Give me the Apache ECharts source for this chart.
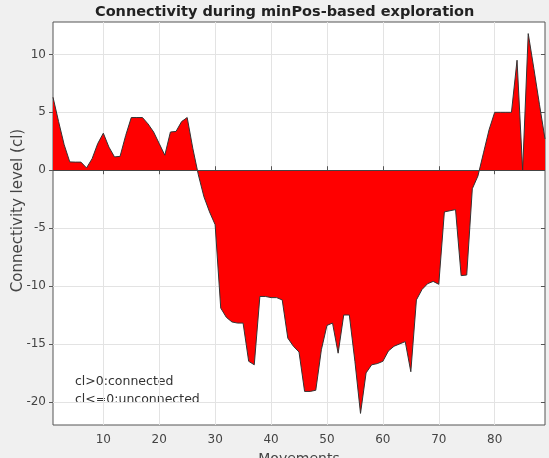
<!DOCTYPE html>
<html>
<head>
<meta charset="utf-8">
<script src="https://cdn.jsdelivr.net/npm/echarts@6/dist/echarts.min.js"></script>
<style>
  html, body { margin: 0; padding: 0; background: #f0f0f0; }
  #chart { width: 549px; height: 458px; }
</style>
</head>
<body>
<div id="chart"></div>
<script>
// connectivity level per movement (1..89)
const connectivity = [
  6.3, 4.2, 2.2, 0.72, 0.7, 0.7, 0.2, 1.0, 2.3, 3.2,
  2.0, 1.15, 1.2, 3.0, 4.55, 4.55, 4.55, 4.0, 3.3, 2.3,
  1.3, 3.3, 3.35, 4.2, 4.55, 1.9, -0.4, -2.3, -3.6, -4.7,
  -11.9, -12.7, -13.1, -13.2, -13.2, -16.5, -16.8, -10.9, -10.9, -11.0,
  -11.0, -11.2, -14.5, -15.2, -15.7, -19.1, -19.1, -19.0, -15.5, -13.4,
  -13.2, -15.8, -12.5, -12.5, -16.5, -21.0, -17.5, -16.8, -16.7, -16.5,
  -15.6, -15.2, -15.0, -14.8, -17.4, -11.2, -10.3, -9.8, -9.6, -9.85,
  -3.6, -3.5, -3.4, -9.1, -9.05, -1.6, -0.5, 1.5, 3.5, 5.0,
  5.0, 5.0, 5.0, 9.5, 0.0, 11.8, 8.8, 5.7, 2.7
]
const xTicks = [10, 20, 30, 40, 50, 60, 70, 80]
const yTicks = [-20, -15, -10, -5, 0, 5, 10]
const notes = ['cl>0:connected', 'cl<=0:unconnected']

const chart = echarts.init(document.getElementById('chart'))

const points = connectivity.map((v, i) => [i + 1, v])
const font = 'DejaVu Sans'
const textColor = '#444'
const gridColor = '#e3e3e3'

const option = {
  backgroundColor: '#f0f0f0',
  animation: false,
  title: {
    text: 'Connectivity during minPos-based exploration',
    left: 90,
    top: 0,
    textStyle: { fontFamily: font, fontSize: 14.5, fontWeight: 'bold', color: '#222' }
  },
  grid: {
    left: 53, right: 4, top: 22, bottom: 33,
    outerBoundsMode: 'none',
    show: true, backgroundColor: '#fff', borderColor: '#555', borderWidth: 1
  },
  xAxis: [{
    type: 'value',
    min: 1,
    max: 89,
    name: 'Movements',
    nameLocation: 'middle',
    nameGap: 27,
    nameTextStyle: { fontFamily: font, fontSize: 14, color: textColor },
    axisLine: { show: false },
    axisTick: { show: true, inside: true, length: 4, customValues: xTicks, lineStyle: { color: '#555' } },
    axisLabel: { customValues: xTicks, margin: 9, fontFamily: font, fontSize: 12, color: textColor },
    splitLine: { show: true, lineStyle: { color: gridColor } }
  }, {
    type: 'value',
    position: 'top',
    min: 1,
    max: 89,
    axisLine: { show: false },
    axisTick: { show: true, inside: true, length: 4, customValues: xTicks, lineStyle: { color: '#555' } },
    axisLabel: { show: false },
    splitLine: { show: false }
  }],
  yAxis: [{
    type: 'value',
    min: -22,
    max: 12.8,
    name: 'Connectivity level (cl)',
    nameLocation: 'middle',
    nameGap: 27,
    nameMoveOverlap: false,
    nameTextStyle: { fontFamily: font, fontSize: 15, color: textColor, padding: [0, 0, 0, 26] },
    axisLine: { show: false },
    axisTick: { show: true, inside: false, length: 4, customValues: yTicks, lineStyle: { color: '#555' } },
    axisLabel: { customValues: yTicks, margin: 7, fontFamily: font, fontSize: 12, color: textColor },
    splitLine: { show: true, lineStyle: { color: gridColor } }
  }, {
    type: 'value',
    position: 'right',
    min: -22,
    max: 12.8,
    axisLine: { show: false },
    axisTick: { show: true, inside: true, length: 4, customValues: yTicks, lineStyle: { color: '#555' } },
    axisLabel: { show: false },
    splitLine: { show: false }
  }],
  graphic: notes.map((t, i) => ({
    type: 'text',
    left: 75,
    top: 375 + i * 18,
    style: { text: t, fontFamily: font, fontSize: 12.5, fill: '#333' }
  })),
  series: [
    {
      name: 'cl',
      type: 'line',
      data: points,
      z: 3,
      symbol: 'none',
      lineStyle: { color: '#333', width: 1 },
      areaStyle: { color: '#ff0000', opacity: 1, origin: 0 },
      markLine: {
        symbol: 'none',
        silent: true,
        label: { show: false },
        lineStyle: { color: '#444', width: 1, type: 'solid' },
        data: [{ yAxis: 0 }]
      }
    }
  ]
}

chart.setOption(option)
</script>
</body>
</html>
